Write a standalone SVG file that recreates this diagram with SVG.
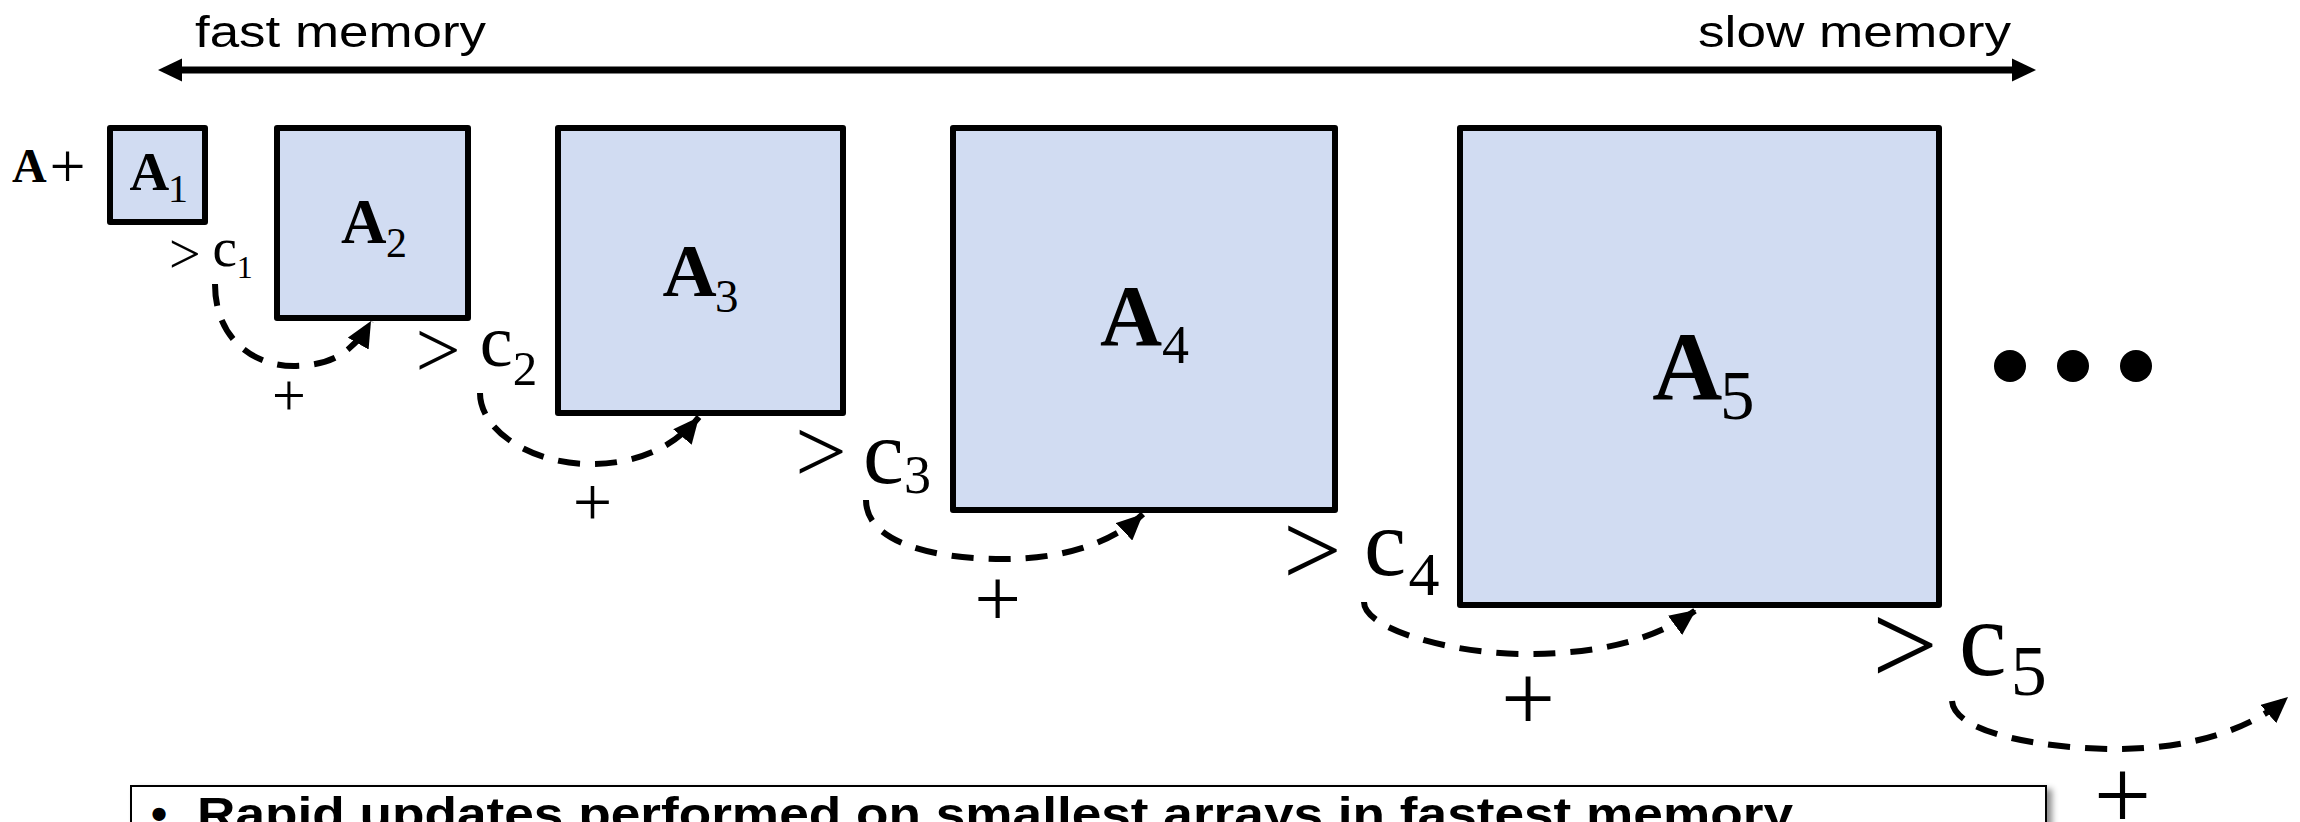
<svg xmlns="http://www.w3.org/2000/svg" width="2300" height="822" viewBox="0 0 2300 822">
  <style>
    .box { fill: #D1DCF2; stroke: #000; stroke-width: 6; stroke-linejoin: round; }
    .serif { font-family: "Liberation Serif", "Times New Roman", serif; fill: #000; }
    .sans { font-family: "Liberation Sans", Arial, sans-serif; fill: #000; }
    .b { font-weight: bold; }
    .n { font-weight: normal; }
    .arc { fill: none; stroke: #000; stroke-width: 6; stroke-dasharray: 22 15; marker-end: url(#ah); }
  </style>
  <defs>
    <marker id="ah" markerUnits="userSpaceOnUse" viewBox="0 0 26 24" markerWidth="26" markerHeight="24" refX="26" refY="12" orient="auto">
      <path d="M0 0 L26 12 L0 24 Z" fill="#000"/>
    </marker>
    <filter id="shadow" x="-5%" y="-50%" width="110%" height="200%">
      <feDropShadow dx="5" dy="4" stdDeviation="3" flood-color="#000" flood-opacity="0.45"/>
    </filter>
  </defs>
  <rect width="2300" height="822" fill="#fff"/>

  <g id="memory-axis">
    <line x1="178" y1="70" x2="2016" y2="70" stroke="#000" stroke-width="7"/>
    <polygon points="158,70 182,58.5 182,81.5" fill="#000"/>
    <polygon points="2036,70 2012,58.5 2012,81.5" fill="#000"/>
    <text class="sans" x="195" y="46.5" font-size="45" textLength="291" lengthAdjust="spacingAndGlyphs">fast memory</text>
    <text class="sans" x="1698" y="46.5" font-size="45" textLength="313" lengthAdjust="spacingAndGlyphs">slow memory</text>
  </g>

  <g id="prefix">
    <text class="serif b" x="12" y="182" font-size="48">A</text>
    <text class="serif" x="67.5" y="187.5" font-size="64" text-anchor="middle">+</text>
  </g>

  <g id="A1">
    <rect class="box" x="110" y="128" width="95" height="94"/>
    <text class="serif b" x="129.6" y="190" font-size="55">A<tspan class="n" x="168" y="202" font-size="40">1</tspan></text>
  </g>
  <g id="A2">
    <rect class="box" x="277" y="128" width="191" height="190"/>
    <text class="serif b" x="341" y="243" font-size="63">A<tspan class="n" x="386" y="257" font-size="42">2</tspan></text>
  </g>
  <g id="A3">
    <rect class="box" x="558" y="128" width="285" height="285"/>
    <text class="serif b" x="662.5" y="296" font-size="75">A<tspan class="n" x="715" y="312" font-size="47">3</tspan></text>
  </g>
  <g id="A4">
    <rect class="box" x="953" y="128" width="382" height="382"/>
    <text class="serif b" x="1100" y="345" font-size="86">A<tspan class="n" x="1162" y="363" font-size="54">4</tspan></text>
  </g>
  <g id="A5">
    <rect class="box" x="1460" y="128" width="479" height="477"/>
    <text class="serif b" x="1652.3" y="399" font-size="97">A<tspan class="n" x="1720" y="419" font-size="69">5</tspan></text>
  </g>

  <g id="ellipsis">
    <circle cx="2010" cy="366" r="16" fill="#000"/>
    <circle cx="2073" cy="366" r="16" fill="#000"/>
    <circle cx="2136" cy="366" r="16" fill="#000"/>
  </g>

  <g id="thresholds">
    <text class="serif"><tspan x="169" y="273" font-size="56">&gt;</tspan><tspan x="200.6" y="266" font-size="47"> </tspan><tspan x="212.4" y="266" font-size="55">c</tspan><tspan x="236.8" y="278" font-size="32">1</tspan></text>
    <text class="serif"><tspan x="415.6" y="376.7" font-size="80">&gt;</tspan><tspan x="460.7" y="366" font-size="76"> </tspan><tspan x="479.8" y="366" font-size="74">c</tspan><tspan x="512.7" y="385" font-size="49">2</tspan></text>
    <text class="serif"><tspan x="795" y="482" font-size="92">&gt;</tspan><tspan x="846.9" y="483" font-size="64"> </tspan><tspan x="863" y="483" font-size="92">c</tspan><tspan x="904" y="493" font-size="54">3</tspan></text>
    <text class="serif"><tspan x="1283" y="584.7" font-size="104">&gt;</tspan><tspan x="1341.7" y="575" font-size="89"> </tspan><tspan x="1364" y="575" font-size="95">c</tspan><tspan x="1408.5" y="595" font-size="62">4</tspan></text>
    <text class="serif"><tspan x="1872" y="684" font-size="117">&gt;</tspan><tspan x="1938" y="675" font-size="83"> </tspan><tspan x="1958.8" y="675" font-size="108">c</tspan><tspan x="2010.8" y="695" font-size="72">5</tspan></text>
  </g>

  <g id="connectors">
    <path class="arc" d="M215 284 C215 340 255 367 296 366 C325 365 350 358 371 321"/>
    <path class="arc" d="M480 393 C480 430 530 464 591 464 C630 464 670 452 699 417"/>
    <path class="arc" d="M866 500 C866 545 940 559 1003 559 C1060 559 1110 545 1143 514"/>
    <path class="arc" d="M1364 602 C1364 630 1455 654 1525 654 C1600 654 1655 640 1696 610"/>
    <path class="arc" d="M1952 701 C1955 735 2050 749 2117 749 C2190 749 2250 730 2288 697"/>
  </g>

  <g id="plus-labels">
    <text class="serif" x="289" y="414.8" font-size="60" text-anchor="middle">+</text>
    <text class="serif" x="592.5" y="525.6" font-size="70" text-anchor="middle">+</text>
    <text class="serif" x="997.6" y="626.4" font-size="83" text-anchor="middle">+</text>
    <text class="serif" x="1528" y="729.7" font-size="96" text-anchor="middle">+</text>
    <text class="serif" x="2122.5" y="828.7" font-size="102" text-anchor="middle">+</text>
  </g>

  <g id="note">
    <rect x="131" y="786" width="1915" height="90" fill="#fff" stroke="#000" stroke-width="2" filter="url(#shadow)"/>
    <text class="sans b" x="151" y="829.5" font-size="46">•</text>
    <text class="sans b" x="197" y="829.5" font-size="46" textLength="1596" lengthAdjust="spacingAndGlyphs">Rapid updates performed on smallest arrays in fastest memory</text>
  </g>
</svg>
